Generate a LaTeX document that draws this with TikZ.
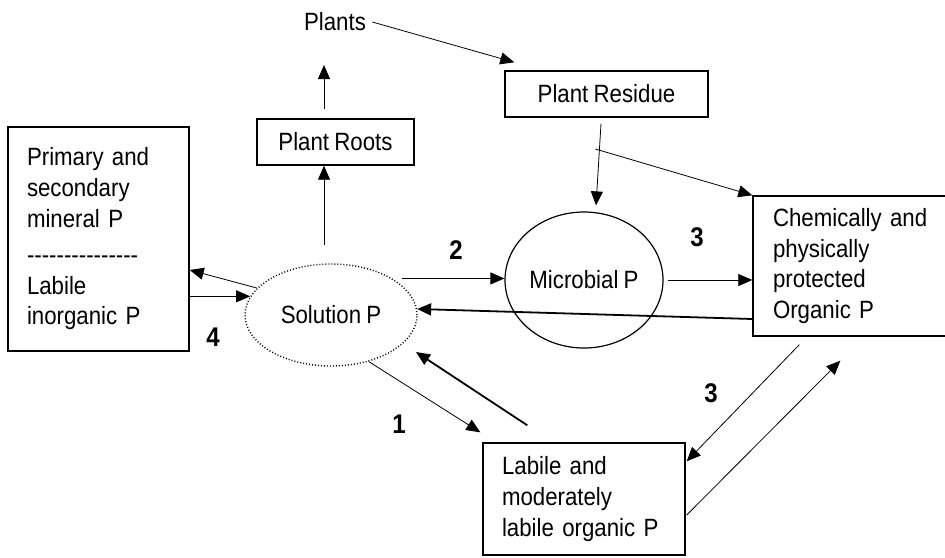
\documentclass[tikz,border=0pt]{standalone}
\usepackage{fontspec}
\setmainfont{Liberation Sans}[FakeStretch=0.89, WordSpace=0.85]
\usepackage{tikz}
\usetikzlibrary{positioning, shapes.geometric, calc, arrows.meta}
\newcommand{\pfont}{\fontsize{12.5}{15.3}\selectfont}
\newcommand{\hy}{\mbox{-}}
\newcommand{\dashrow}{\leavevmode\hy\hy\hy\hy\hy\hy\hy\hy\hy\hy\hy\hy\hy\hy\hy}

\begin{document}
\begin{tikzpicture}[x=0.5pt, y=-0.5pt,
    box/.style={draw, line width=0.7pt, rectangle, inner xsep=9.5pt, align=left, font=\pfont},
    pool/.style={ellipse, draw, line width=0.6pt, inner sep=0pt, font=\pfont},
    num/.style={font=\fontsize{13.5}{15}\selectfont\bfseries},
    conn/.style={-{Triangle[length=7pt,width=6pt]}, line width=0.4pt},
    heavy/.style={conn, line width=0.9pt}]
  \useasboundingbox (0,0) rectangle (945,557);

  % Boxes
  \node[box, text width=71.5pt, minimum height=112pt] (mineral) at (98.5,239)
    {Primary and\\secondary\\mineral P\\[3pt]\dashrow\\Labile\\inorganic P};
  \node[box, align=center, inner xsep=2pt, minimum width=78.5pt, minimum height=23pt] (roots) at (335.5,142) {Plant Roots};
  \node[box, align=center, inner xsep=2pt, minimum width=101.5pt, minimum height=23pt] (residue) at (606.5,94) {Plant Residue};
  \node[box, inner xsep=10pt, text width=83.5pt, minimum height=70pt] (chem) at (856.5,266)
    {Chemically and\\physically\\protected\\Organic P};
  \node[box, text width=82pt, minimum height=56pt] (lab) at (584,499)
    {Labile and\\moderately\\labile organic P};
  \node[font=\pfont, inner sep=3pt] (plants) at (335,22) {Plants};

  % Pools
  \node[pool, line width=0.7pt, dash pattern=on 0.5pt off 1pt, minimum width=86pt, minimum height=51pt] (sol) at (331,315) {Solution P};
  \node[pool, minimum width=79pt, minimum height=68pt] (mic) at (584,280) {Microbial P};

  % Plant side
  \coordinate (rtip) at (324,65);
  \draw[conn] (plants.east) -- ([shift={(5pt,4pt)}]residue.north west);
  \draw[conn] ([yshift=4.5pt]rtip |- roots.north) -- (rtip);
  \draw[conn] ([yshift=9pt]rtip |- sol.north) -- (rtip |- roots.south);
  \coordinate (rs) at ([shift={(-2.75pt,-3pt)}]residue.south);
  \coordinate (mt) at ([shift={(6pt,3pt)}]mic.north);
  \coordinate (rb) at ($(rs)!0.31!(mt)+(-4,0)$);
  \draw[conn] (rs) -- (mt);
  \draw[conn] (rb) -- (chem.north west);

  % Mineral exchange
  \draw[conn] (sol.160) -- ([yshift=-15.5pt]mineral.east);
  \draw[conn] (mineral.east |- sol.167) -- (sol.167);

  % Microbial and protected pools
  \draw[conn] ([xshift=5pt]sol.north east) -- (mic.west |- sol.north east);
  \draw[conn] ([xshift=2pt]mic.east) -- (chem.west |- mic.east);
  \draw[heavy] ([yshift=-26.5pt]chem.west) -- (sol.4);

  % Labile organic pool
  \draw[conn] (sol.-51) -- ([shift={(-1pt,5pt)}]lab.north west);
  \draw[heavy] ([shift={(22.5pt,8.5pt)}]lab.north west) -- ([shift={(42.5pt,-18.5pt)}]sol.center);
  \draw[conn] ([shift={(23.5pt,-4pt)}]chem.south west) -- ([shift={(0.5pt,-9.5pt)}]lab.north east);
  \draw[conn] ([shift={(0.5pt,-8pt)}]lab.east) -- ([shift={(44pt,-12pt)}]chem.south west);

  % Numbers
  \node[num] (n4) at (213,337) {4};
  \node[num] (n2) at (456,250) {2};
  \node[num] (n3a) at (697,237) {3};
  \node[num] (n1) at (399,424) {1};
  \node[num] (n3b) at (711,393) {3};
\end{tikzpicture}
\end{document}
